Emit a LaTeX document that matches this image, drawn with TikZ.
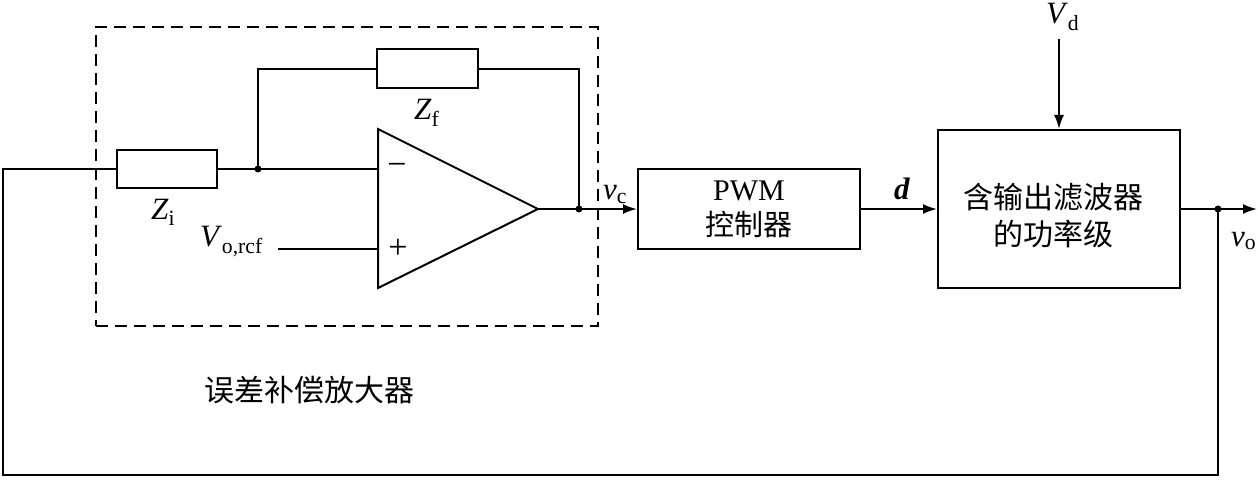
\documentclass[tikz,border=0pt]{standalone}
\usepackage{fontspec}
\setmainfont{Liberation Serif}
\newfontfamily\cjk{Noto Sans CJK SC}
\usetikzlibrary{arrows.meta}
\newcommand\sublab[2]{\textit{#1}\textsubscript{#2}}
\begin{document}
\begin{tikzpicture}[x=1pt,y=-1pt, line width=2pt,
  blk/.style={draw, rectangle, inner sep=0pt, line width=2pt},
  res/.style={draw, rectangle, minimum width=100pt, minimum height=38pt, inner sep=0pt},
  arr/.style={-{Latex[length=14pt,width=10pt]}},
  lab/.style={font=\fontsize{31}{34}\selectfont, inner sep=0pt},
  sgn/.style={font=\fontsize{34}{36}\selectfont, inner sep=0pt},
  zh/.style={font=\cjk\fontsize{30}{37}\selectfont, align=center, inner sep=0pt},
  dot/.style={circle, fill, inner sep=0pt, minimum size=7pt},
  dashbox/.style={draw, dash pattern=on 12pt off 7pt, line width=1.5pt}]
\useasboundingbox (0,0) rectangle (1258,481);

% dashed frame
\node[dashbox, minimum width=502pt, minimum height=299pt, inner sep=0pt] (frame) at (347,176.5) {};

% components
\node[res] (Zi) at (167,169) {};
\node[res, minimum width=101pt, minimum height=39pt] (Zf) at (427.5,69) {};
\coordinate (j1) at (258,169);
\coordinate (oaT) at (378,129);
\coordinate (oaB) at (378,288);
\coordinate (oaO) at (538,209);
\coordinate (oaM) at (378,169);
\coordinate (oaP) at (378,249);
\coordinate (refS) at (278,249);
\coordinate (j2) at (579,209);
\node[blk, minimum width=222pt, minimum height=80pt, align=center,
      font=\fontsize{30}{37}\selectfont] (pwm) at (749,209) {PWM\\[-2pt]{\cjk\fontsize{29}{37}\selectfont 控制器}};
\node[blk, minimum width=242pt, minimum height=158pt] (pow) at (1059,209) {};
\node[zh] (powtxt) at (1053,216) {含输出滤波器\\的功率级};
\coordinate (vdT) at (1059,39);
\coordinate (j3) at (1218,209);
\coordinate (oE) at (1257,209);
\coordinate (tl) at (3,169);
\coordinate (bl) at (3,475);
\coordinate (br) at (1218,475);

% wires
\draw (Zi.west) -- (tl) -- (bl) -- (br) -- (j3);
\draw (Zi.east) -- (j1) -- (oaM);
\draw (j1) |- (Zf.west);
\draw (Zf.east) -| (j2);
\draw (oaT) -- (oaO) -- (oaB) -- cycle;
\draw (refS) -- (oaP);
\draw[arr] (oaO) -- (pwm.west);
\draw[arr] (pwm.east) -- (pow.west);
\draw[arr] (vdT) -- (pow.north);
\draw[arr] (pow.east) -- (oE);
\node[dot] at (j1) {};
\node[dot] at (j2) {};
\node[dot] at (j3) {};

% signs
\node[sgn] (minus) at (397,169) {−};
\node[sgn] (plus) at (398,249) {+};

% labels
\node[lab, anchor=base west] (lZf) at (413,120) {\sublab{Z}{f}};
\node[lab, anchor=base west] (lZi) at (150,220) {\sublab{Z}{i}};
\node[lab, anchor=base west] (lVr) at (199,247) {\sublab{V}{o,rcf}};
\node[lab, anchor=base west] (lvc) at (602,200) {\sublab{v}{c}};
\node[lab, anchor=base west] (ld) at (893,200) {\textbf{\textit{d}}};
\node[lab, anchor=base west] (lVd) at (1045,24) {\sublab{V}{d}};
\node[lab, anchor=base west] (lvo) at (1230,246) {\sublab{v}{o}};
\node[zh] (cap) at (309,390) {误差补偿放大器};
\end{tikzpicture}
\end{document}
